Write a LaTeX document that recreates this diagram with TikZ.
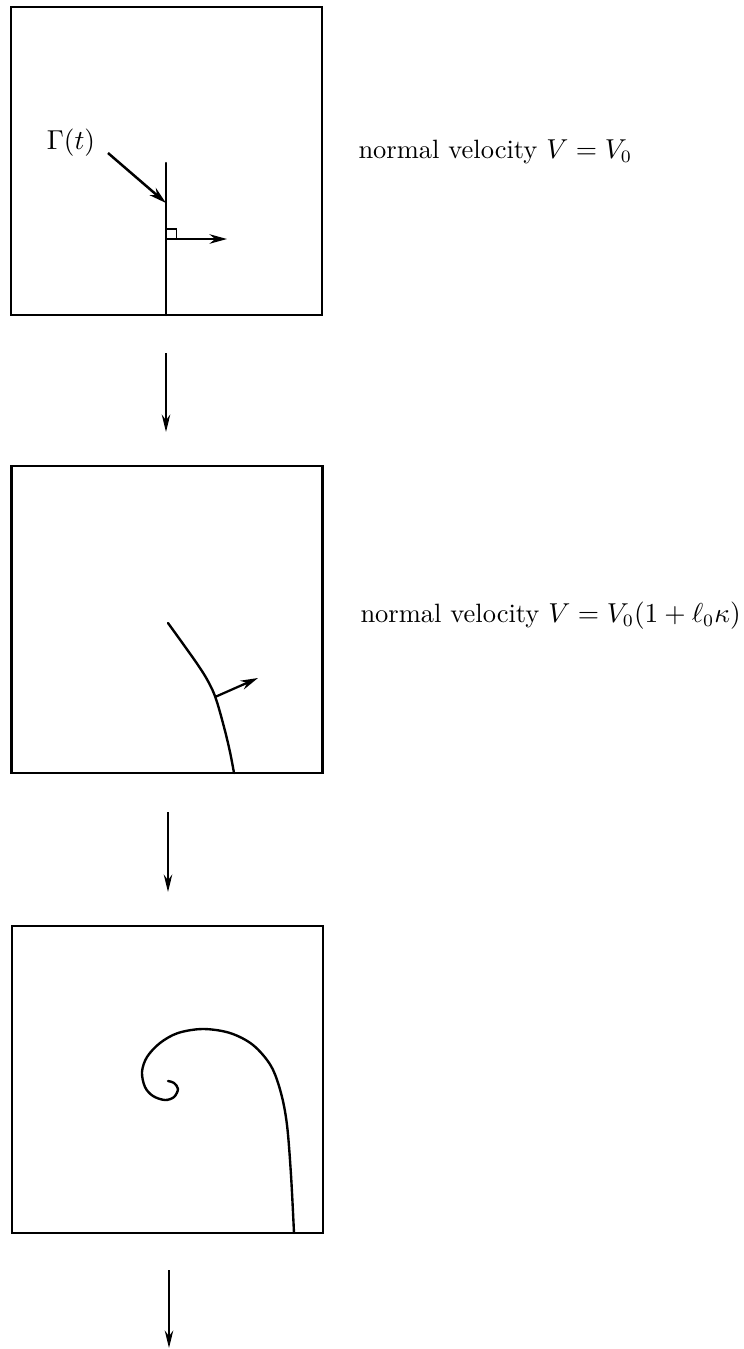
\documentclass[tikz,border=0pt]{standalone}
\usetikzlibrary{arrows.meta}
\begin{document}
\begin{tikzpicture}[x=0.4pt,y=-0.4pt,
  panel/.style={draw,line width=0.9pt,minimum width=124.4pt,minimum height=123pt,inner sep=0pt},
  curveline/.style={line width=0.95pt,line cap=round},
  flow/.style={line width=0.7pt,-{Stealth[length=7pt,width=3.4pt]}},
  normarrow/.style={line width=0.9pt,-{Stealth[length=7pt,width=3.8pt]}},
  lab/.style={anchor=west,inner sep=0pt,font=\fontsize{10.6}{13}\selectfont}]
\useasboundingbox (0,0) rectangle (744,1349);
% panels
\node[panel] (p1) at (166.5,161) {};
\node[panel] (p2) at (167,619.5) {};
\node[panel] (p3) at (167.5,1079.5) {};
% flow arrows
\coordinate (a1s) at (166,353); \coordinate (a1e) at (166,432);
\coordinate (a2s) at (168,812); \coordinate (a2e) at (168,892);
\coordinate (a3s) at (169,1270); \coordinate (a3e) at (169,1348);
\draw[flow] (a1s) -- (a1e);
\draw[flow] (a2s) -- (a2e);
\draw[flow] (a3s) -- (a3e);
% panel 1
\coordinate (g1) at (166,163); \coordinate (g2) at (166,315);
\draw[curveline] (g1) -- (g2);
\draw[line width=0.7pt] (166,229) rectangle (176.5,239);
\coordinate (n1s) at (166,239); \coordinate (n1e) at (227,239);
\draw[normarrow] (n1s) -- (n1e);
\node[inner sep=0pt,font=\fontsize{10.6}{13}\selectfont] (gam) at (71,143) {$\Gamma(t)$};
\coordinate (gp) at (166,203);
\draw[line width=1pt,-{Stealth[length=7pt,width=3.8pt]}] (108,153) -- (gp);
\node[lab] (t1) at (358,152) {normal velocity $V=V_0$};
% panel 2
\draw[curveline] plot[smooth,tension=0.6] coordinates {(168,623) (186,648) (200,668) (209,683) (216,699) (224,727) (230,752) (234,773)};
\coordinate (n2s) at (215,697); \coordinate (n2e) at (258,678);
\draw[normarrow] (n2s) -- (n2e);
\node[lab] (t2) at (360,616) {normal velocity $V=V_0(1+\ell_0\kappa)$};
% panel 3
\draw[curveline] plot[smooth,tension=0.55] coordinates {(294,1233) (291,1175) (287,1125) (281,1093) (271,1066) (253,1045) (230,1033) (203,1029) (178,1033) (160,1043) (147,1057) (142,1072) (145,1087) (153,1096) (165,1100) (174,1097) (178,1089) (174,1083) (168,1081)};
\end{tikzpicture}
\end{document}
